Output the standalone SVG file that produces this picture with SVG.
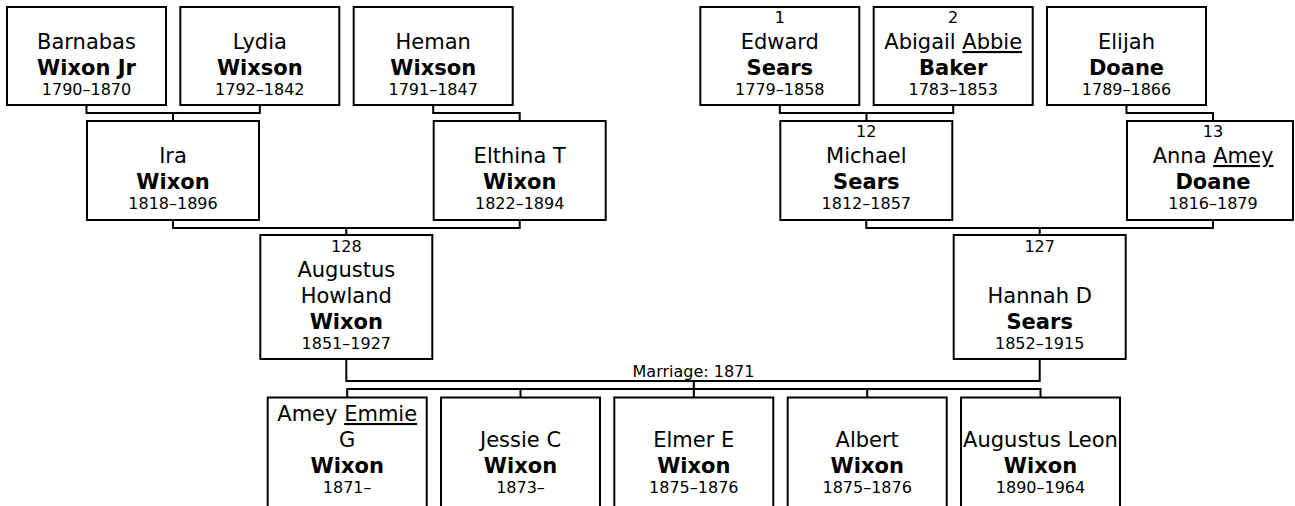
<svg xmlns="http://www.w3.org/2000/svg" width="1295" height="506" viewBox="0 0 1295 506">
<style>
text{font-family:"DejaVu Sans",Verdana,sans-serif;fill:#000;text-anchor:middle}
.n{font-size:21px}
.b{font-size:21px;font-weight:bold}
.d{font-size:16px}
.k{font-size:16px}
.u{text-decoration:underline}
rect{fill:#fff;stroke:#000;stroke-width:2}
.c path{fill:none;stroke:#000;stroke-width:2}
</style>
<rect x="0" y="0" width="1295" height="506" style="stroke:none"/>
<g class="c" id="connectors">
<path d="M86.5 105V113H259.8V105M173 113V121"/>
<path d="M433.2 105V113H519.7V121"/>
<path d="M779.8 105V113H953.2V105M866.5 113V121"/>
<path d="M1126.5 105V113H1213V121"/>
<path d="M173 220V228H519.7V220M346.3 228V235"/>
<path d="M866.3 220V228H1213V220M1039.7 228V235"/>
<path d="M346.3 359V381H1039.7V359M693.8 381V389"/>
<path d="M347.2 397.5V389H1040.5V397.5M520.5 389V397.5M693.8 389V397.5M867.2 389V397.5"/>
<text class="k" x="693.5" y="377">Marriage: 1871</text>
</g>
<g id="barnabas"><rect x="7" y="7" width="159" height="98"/>
<text class="n" x="86.5" y="49">Barnabas</text><text class="b" x="86.5" y="75">Wixon Jr</text><text class="d" x="86.5" y="95">1790–1870</text></g>
<g id="lydia"><rect x="180.3" y="7" width="159" height="98"/>
<text class="n" x="259.8" y="49">Lydia</text><text class="b" x="259.8" y="75">Wixson</text><text class="d" x="259.8" y="95">1792–1842</text></g>
<g id="heman"><rect x="353.7" y="7" width="159" height="98"/>
<text class="n" x="433.2" y="49">Heman</text><text class="b" x="433.2" y="75">Wixson</text><text class="d" x="433.2" y="95">1791–1847</text></g>
<g id="edward"><rect x="700.3" y="7" width="159" height="98"/>
<text class="k" x="779.8" y="23">1</text><text class="n" x="779.8" y="49">Edward</text><text class="b" x="779.8" y="75">Sears</text><text class="d" x="779.8" y="95">1779–1858</text></g>
<g id="abigail"><rect x="873.7" y="7" width="159" height="98"/>
<text class="k" x="953.2" y="23">2</text><text class="n" x="953.2" y="49">Abigail <tspan class="u">Abbie</tspan></text><text class="b" x="953.2" y="75">Baker</text><text class="d" x="953.2" y="95">1783–1853</text></g>
<g id="elijah"><rect x="1047" y="7" width="159" height="98"/>
<text class="n" x="1126.5" y="49">Elijah</text><text class="b" x="1126.5" y="75">Doane</text><text class="d" x="1126.5" y="95">1789–1866</text></g>
<g id="ira"><rect x="87" y="121" width="172" height="99"/>
<text class="n" x="173" y="163">Ira</text><text class="b" x="173" y="189">Wixon</text><text class="d" x="173" y="209">1818–1896</text></g>
<g id="elthina"><rect x="433.7" y="121" width="172" height="99"/>
<text class="n" x="519.7" y="163">Elthina T</text><text class="b" x="519.7" y="189">Wixon</text><text class="d" x="519.7" y="209">1822–1894</text></g>
<g id="michael"><rect x="780.3" y="121" width="172" height="99"/>
<text class="k" x="866.3" y="137">12</text><text class="n" x="866.3" y="163">Michael</text><text class="b" x="866.3" y="189">Sears</text><text class="d" x="866.3" y="209">1812–1857</text></g>
<g id="anna"><rect x="1127" y="121" width="166" height="99"/>
<text class="k" x="1213" y="137">13</text><text class="n" x="1213" y="163">Anna <tspan class="u">Amey</tspan></text><text class="b" x="1213" y="189">Doane</text><text class="d" x="1213" y="209">1816–1879</text></g>
<g id="augustus"><rect x="260.3" y="235" width="172" height="124"/>
<text class="k" x="346.3" y="251.5">128</text><text class="n" x="346.3" y="277">Augustus</text><text class="n" x="346.3" y="303">Howland</text><text class="b" x="346.3" y="329">Wixon</text><text class="d" x="346.3" y="349">1851–1927</text></g>
<g id="hannah"><rect x="953.7" y="235" width="172" height="124"/>
<text class="k" x="1039.7" y="251.5">127</text><text class="n" x="1039.7" y="303">Hannah D</text><text class="b" x="1039.7" y="329">Sears</text><text class="d" x="1039.7" y="349">1852–1915</text></g>
<g id="amey"><rect x="267.7" y="397.5" width="159" height="124"/>
<text class="n" x="347.2" y="421">Amey <tspan class="u">Emmie</tspan></text><text class="n" x="347.2" y="447">G</text><text class="b" x="347.2" y="473">Wixon</text><text class="d" x="347.2" y="493">1871–</text></g>
<g id="jessie"><rect x="441" y="397.5" width="159" height="124"/>
<text class="n" x="520.5" y="447">Jessie C</text><text class="b" x="520.5" y="473">Wixon</text><text class="d" x="520.5" y="493">1873–</text></g>
<g id="elmer"><rect x="614.3" y="397.5" width="159" height="124"/>
<text class="n" x="693.8" y="447">Elmer E</text><text class="b" x="693.8" y="473">Wixon</text><text class="d" x="693.8" y="493">1875–1876</text></g>
<g id="albert"><rect x="787.7" y="397.5" width="159" height="124"/>
<text class="n" x="867.2" y="447">Albert</text><text class="b" x="867.2" y="473">Wixon</text><text class="d" x="867.2" y="493">1875–1876</text></g>
<g id="augustusleon"><rect x="961" y="397.5" width="159" height="124"/>
<text class="n" x="1040.5" y="447">Augustus Leon</text><text class="b" x="1040.5" y="473">Wixon</text><text class="d" x="1040.5" y="493">1890–1964</text></g>
</svg>
